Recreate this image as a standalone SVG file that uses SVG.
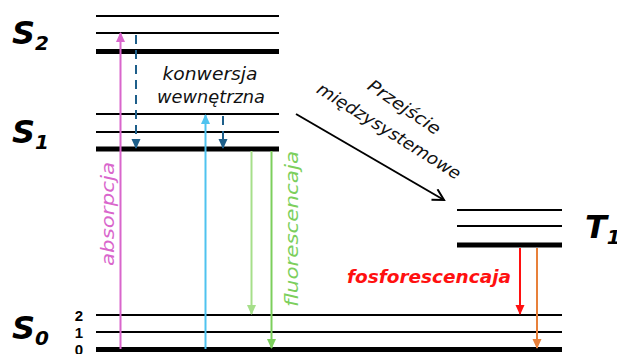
<svg xmlns="http://www.w3.org/2000/svg" width="617" height="354" viewBox="0 0 617 354">
<defs>
<style>
.thin{stroke:#000;stroke-width:2;fill:none}
.thick{stroke:#000;stroke-width:5;fill:none}
.lbl{font-family:"DejaVu Sans",sans-serif;font-style:oblique;font-weight:bold;fill:#000}
.num{font-family:"Liberation Sans",sans-serif;font-weight:bold;font-size:15px;fill:#000;text-anchor:middle;dominant-baseline:central}
.it{font-family:"DejaVu Sans",sans-serif;font-style:oblique;font-size:17px}
</style>
<marker id="aMag" markerWidth="10" markerHeight="10" viewBox="0 0 10 10" refX="9" refY="5" orient="auto" markerUnits="userSpaceOnUse"><path d="M0,0.5 L10,5 L0,9.5 z" fill="#d966cc"/></marker>
<marker id="aBlue" markerWidth="10" markerHeight="10" viewBox="0 0 10 10" refX="9" refY="5" orient="auto" markerUnits="userSpaceOnUse"><path d="M0,0.5 L10,5 L0,9.5 z" fill="#4fc3ef"/></marker>
<marker id="aDash" markerWidth="10" markerHeight="10" viewBox="0 0 10 10" refX="9" refY="5" orient="auto" markerUnits="userSpaceOnUse"><path d="M0,0.5 L10,5 L0,9.5 z" fill="#1e5f8a"/></marker>
<marker id="aLG" markerWidth="10" markerHeight="10" viewBox="0 0 10 10" refX="9" refY="5" orient="auto" markerUnits="userSpaceOnUse"><path d="M0,0.5 L10,5 L0,9.5 z" fill="#a6df8a"/></marker>
<marker id="aG" markerWidth="10" markerHeight="10" viewBox="0 0 10 10" refX="9" refY="5" orient="auto" markerUnits="userSpaceOnUse"><path d="M0,0.5 L10,5 L0,9.5 z" fill="#7ccf5c"/></marker>
<marker id="aRed" markerWidth="10" markerHeight="10" viewBox="0 0 10 10" refX="9" refY="5" orient="auto" markerUnits="userSpaceOnUse"><path d="M0,0.5 L10,5 L0,9.5 z" fill="#ff1010"/></marker>
<marker id="aOr" markerWidth="10" markerHeight="10" viewBox="0 0 10 10" refX="9" refY="5" orient="auto" markerUnits="userSpaceOnUse"><path d="M0,0.5 L10,5 L0,9.5 z" fill="#e8803a"/></marker>
<marker id="aBlk" markerWidth="14" markerHeight="14" viewBox="0 0 14 14" refX="12" refY="7" orient="auto" markerUnits="userSpaceOnUse"><path d="M1,1 L12,7 L1,13" fill="none" stroke="#000" stroke-width="2"/></marker>
</defs>
<rect width="617" height="354" fill="#fff"/>

<g id="S2">
<line class="thin" x1="96" y1="16" x2="279" y2="16"/>
<line class="thin" x1="96" y1="33" x2="279" y2="33"/>
<line class="thick" x1="96" y1="51.5" x2="279" y2="51.5"/>
<text class="lbl" x="12" y="44" font-size="32">S<tspan font-size="20" dy="6">2</tspan></text>
</g>
<g id="S1">
<line class="thin" x1="96" y1="114" x2="279" y2="114"/>
<line class="thin" x1="96" y1="132" x2="279" y2="132"/>
<line class="thick" x1="96" y1="149" x2="279" y2="149"/>
<text class="lbl" x="12" y="143" font-size="32">S<tspan font-size="20" dy="6">1</tspan></text>
</g>
<g id="S0">
<line class="thin" x1="96" y1="315" x2="562" y2="315"/>
<line class="thin" x1="96" y1="332" x2="562" y2="332"/>
<line class="thick" x1="96" y1="349.5" x2="562" y2="349.5"/>
<text class="lbl" x="12" y="339" font-size="32">S<tspan font-size="20" dy="6">0</tspan></text>
<text class="num" x="79" y="315">2</text>
<text class="num" x="79" y="332">1</text>
<text class="num" x="79" y="349">0</text>
</g>
<g id="T1">
<line class="thin" x1="457" y1="210" x2="562" y2="210"/>
<line class="thin" x1="457" y1="226" x2="562" y2="226"/>
<line class="thick" x1="457" y1="245" x2="562" y2="245"/>
<text class="lbl" x="585" y="238" font-size="32">T<tspan font-size="20" dy="6">1</tspan></text>
</g>

<g id="connectors">
<line x1="120.5" y1="349" x2="120.5" y2="33" stroke="#d966cc" stroke-width="2" marker-end="url(#aMag)"/>
<line x1="205.5" y1="349" x2="205.5" y2="115" stroke="#4fc3ef" stroke-width="2" marker-end="url(#aBlue)"/>
<line x1="136" y1="35" x2="136" y2="148" stroke="#1e5f8a" stroke-width="2" stroke-dasharray="9,6" marker-end="url(#aDash)"/>
<line x1="223" y1="116" x2="223" y2="148" stroke="#1e5f8a" stroke-width="2" stroke-dasharray="9,6" marker-end="url(#aDash)"/>
<line x1="251.5" y1="151" x2="251.5" y2="314" stroke="#a6df8a" stroke-width="2" marker-end="url(#aLG)"/>
<line x1="271.5" y1="151" x2="271.5" y2="348" stroke="#7ccf5c" stroke-width="2" marker-end="url(#aG)"/>
<line x1="520" y1="248" x2="520" y2="314" stroke="#ff1010" stroke-width="2" marker-end="url(#aRed)"/>
<line x1="537" y1="248" x2="537" y2="348" stroke="#e8803a" stroke-width="2" marker-end="url(#aOr)"/>
<line x1="296" y1="114" x2="444" y2="200" stroke="#000" stroke-width="2" marker-end="url(#aBlk)"/>
</g>

<g id="labels">
<text class="it" x="210" y="80" text-anchor="middle" fill="#111" textLength="95" lengthAdjust="spacingAndGlyphs">konwersja</text>
<text class="it" x="211" y="103" text-anchor="middle" fill="#111" textLength="108" lengthAdjust="spacingAndGlyphs">wewnętrzna</text>
<text class="it" font-size="21" fill="#d966cc" text-anchor="middle" transform="translate(114,214) rotate(-90)" textLength="104" lengthAdjust="spacingAndGlyphs">absorpcja</text>
<text class="it" font-size="21" fill="#7ccf5c" text-anchor="middle" transform="translate(298,229) rotate(-90)" textLength="156" lengthAdjust="spacingAndGlyphs">fluorescencaja</text>
<text class="it" fill="#111" text-anchor="middle" transform="translate(401,112) rotate(34)" textLength="84" lengthAdjust="spacingAndGlyphs">Przejście</text>
<text class="it" fill="#111" text-anchor="middle" transform="translate(386,136) rotate(32)" textLength="166" lengthAdjust="spacingAndGlyphs">międzysystemowe</text>
<text class="it" font-size="20" font-weight="bold" fill="#ff1010" transform="translate(347,283)" textLength="164" lengthAdjust="spacingAndGlyphs">fosforescencaja</text>
</g>
</svg>
